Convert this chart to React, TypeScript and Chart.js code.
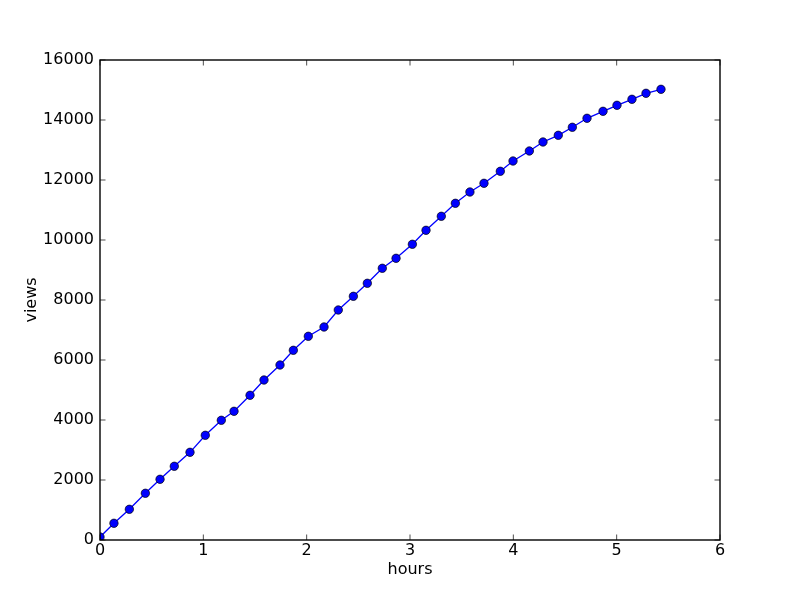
import React, { useEffect, useRef } from "react";
import { Chart, registerables } from "chart.js";

Chart.register(...registerables);

const hours = [
  0, 0.135, 0.284, 0.439, 0.581, 0.719, 0.871, 1.019, 1.174, 1.297, 1.452, 1.587,
  1.742, 1.871, 2.016, 2.168, 2.306, 2.452, 2.587, 2.732, 2.865, 3.023, 3.155, 3.303,
  3.439, 3.58, 3.716, 3.874, 3.997, 4.155, 4.287, 4.435, 4.571, 4.713, 4.868, 5.003,
  5.148, 5.284, 5.429,
];
const views = [
  100, 557, 1023, 1557, 2023, 2457, 2923, 3490, 3990, 4290, 4823, 5333,
  5833, 6323, 6790, 7100, 7667, 8123, 8557, 9057, 9390, 9857, 10323, 10790,
  11223, 11600, 11890, 12290, 12633, 12967, 13267, 13490, 13757, 14057, 14290, 14490,
  14690, 14890, 15023,
];
const xTicks = [0, 1, 2, 3, 4, 5, 6];
const yTicks = [0, 2000, 4000, 6000, 8000, 10000, 12000, 14000, 16000];

const FONT = "'DejaVu Sans', sans-serif";

const framePlugin = {
  id: "mplFrame",
  afterDraw(chart: any) {
    const { ctx, chartArea, scales } = chart;
    const { left, right, top, bottom } = chartArea;
    const tl = 5.5;
    ctx.save();
    ctx.strokeStyle = "#000";
    ctx.lineWidth = 0.7;
    ctx.beginPath();
    xTicks.forEach((v) => {
      const px = scales.x.getPixelForValue(v);
      ctx.moveTo(px, bottom);
      ctx.lineTo(px, bottom - tl);
      ctx.moveTo(px, top);
      ctx.lineTo(px, top + tl);
    });
    yTicks.forEach((v) => {
      const py = scales.y.getPixelForValue(v);
      ctx.moveTo(left, py);
      ctx.lineTo(left + tl, py);
      ctx.moveTo(right, py);
      ctx.lineTo(right - tl, py);
    });
    ctx.stroke();
    ctx.lineWidth = 1.4;
    ctx.strokeRect(left, top, right - left, bottom - top);
    ctx.restore();
  },
};

export default function App() {
  const ref = useRef<HTMLCanvasElement>(null);
  useEffect(() => {
    if (!ref.current) return;
    const data = hours.map((h, i) => ({ x: h, y: views[i] }));
    const chart = new Chart(ref.current, {
      type: "scatter",
      data: {
        datasets: [
          {
            data,
            showLine: true,
            borderColor: "#0000ff",
            borderWidth: 1.3,
            pointRadius: 4.2,
            pointBackgroundColor: "#0000ff",
            pointBorderColor: "#000000",
            pointBorderWidth: 0.7,
            clip: 0,
          } as any,
        ],
      },
      options: {
        responsive: false,
        animation: false,
        layout: { padding: { top: 60, right: 80, left: 0, bottom: 0 } },
        plugins: { legend: { display: false }, tooltip: { enabled: false } },
        scales: {
          x: {
            type: "linear",
            min: 0,
            max: 6,
            afterFit: (s: any) => {
              s.height = 60;
            },
            grid: { display: false, drawTicks: false },
            border: { display: false },
            ticks: {
              stepSize: 1,
              padding: 1.5,
              color: "#000",
              font: { family: FONT, size: 16 },
              callback: (v: any) => String(v),
            },
            title: {
              display: true,
              text: "hours",
              color: "#000",
              font: { family: FONT, size: 16 },
              padding: { top: 0, bottom: 20.4 },
            },
          },
          y: {
            type: "linear",
            min: 0,
            max: 16000,
            afterFit: (s: any) => {
              s.width = 100;
            },
            grid: { display: false, drawTicks: false },
            border: { display: false },
            ticks: {
              stepSize: 2000,
              padding: 6,
              color: "#000",
              font: { family: FONT, size: 16 },
              callback: (v: any) => String(v),
            },
            title: {
              display: true,
              text: "views",
              color: "#000",
              font: { family: FONT, size: 16 },
              padding: { top: 22.4, bottom: 0 },
            },
          },
        },
      },
      plugins: [framePlugin],
    });
    return () => chart.destroy();
  }, []);
  return (
    <div style={{ position: "fixed", left: 0, top: 0, width: 800, height: 600, background: "#fff" }}>
      <canvas ref={ref} width={800} height={600} style={{ display: "block" }} />
    </div>
  );
}
